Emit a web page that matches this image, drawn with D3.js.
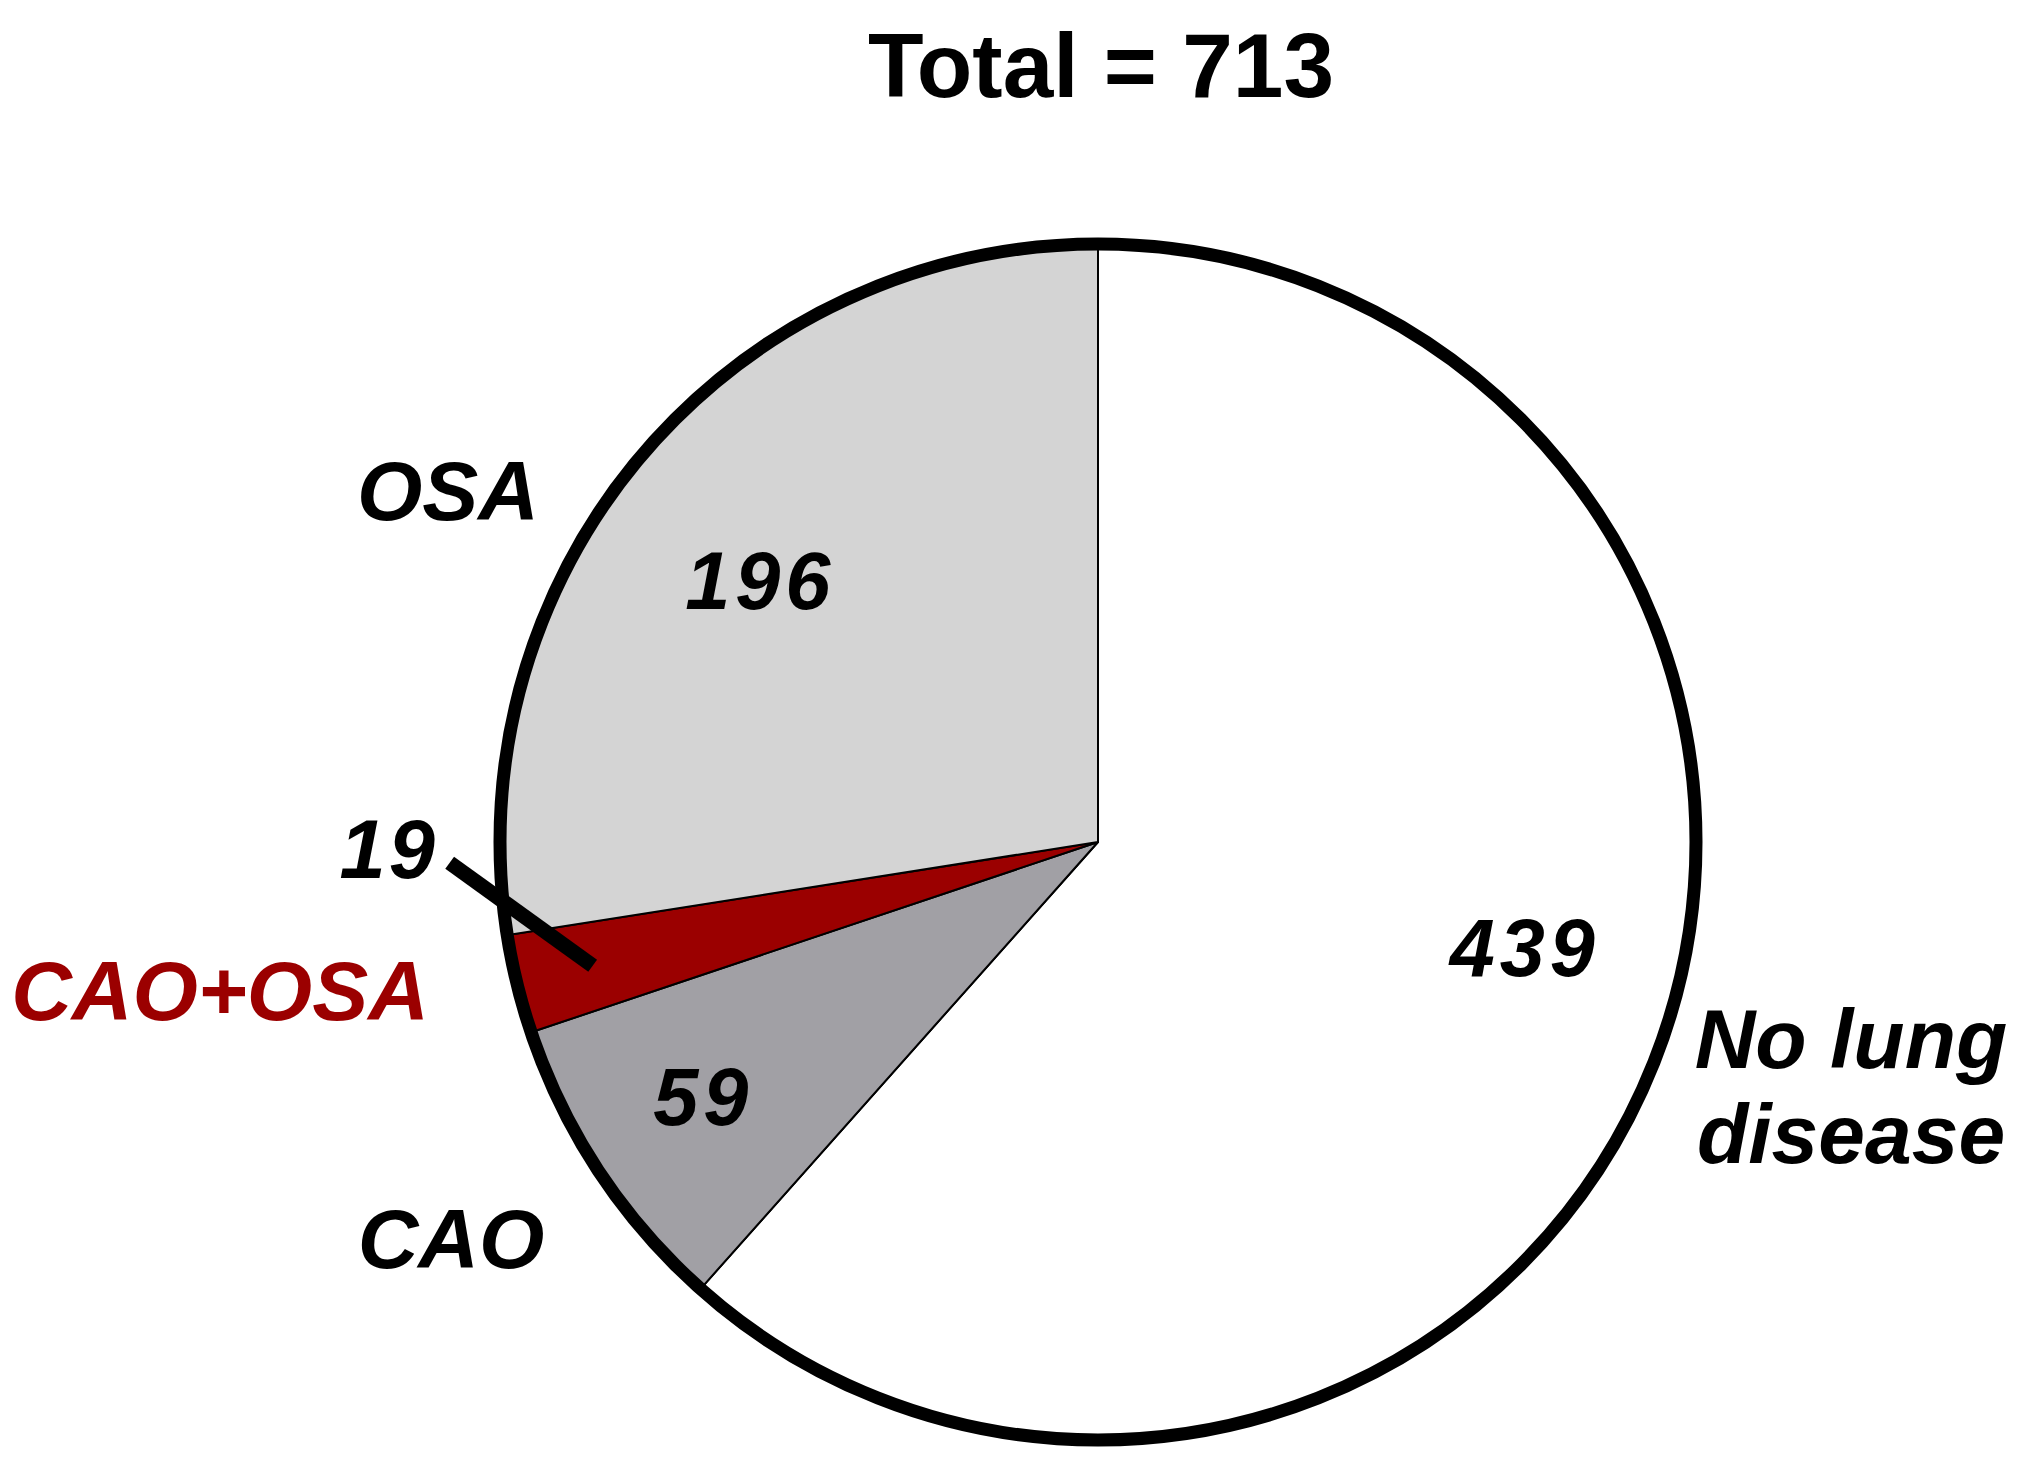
<!DOCTYPE html>
<html>
<head>
<meta charset="utf-8">
<script src="https://cdn.jsdelivr.net/npm/d3@7"></script>
<style>
  html, body { margin: 0; padding: 0; background: #ffffff; }
  svg { display: block; }
  text { font-family: "Liberation Sans", Arial, sans-serif; font-weight: bold; }
</style>
</head>
<body>
<div id="chart"></div>
<script>
// ---- data ----
const categories = ["No lung disease", "CAO", "CAO+OSA", "OSA"];
const counts = [439, 59, 19, 196];
const sliceColors = ["#ffffff", "#a1a0a5", "#9b0000", "#d4d4d4"];
const titleText = "Total = " + d3.sum(counts);

// ---- layout ----
const width = 2036;
const height = 1468;
const cx = 1098;
const cy = 842;
const radius = 598;

const svg = d3.select("#chart")
  .append("svg")
  .attr("width", width)
  .attr("height", height)
  .style("background", "#ffffff");

svg.append("text")
  .attr("x", 1101)
  .attr("y", 97)
  .attr("text-anchor", "middle")
  .style("font-size", "91px")
  .text(titleText);

const pie = d3.pie().sort(null).value(d => d.value);
const arcs = pie(categories.map((c, i) => ({ name: c, value: counts[i], color: sliceColors[i] })));

const arc = d3.arc().innerRadius(0).outerRadius(radius);

const g = svg.append("g").attr("transform", `translate(${cx},${cy})`);

g.selectAll("path.slice")
  .data(arcs)
  .enter()
  .append("path")
  .attr("class", "slice")
  .attr("d", arc)
  .attr("fill", d => d.data.color)
  .attr("stroke", "#000")
  .attr("stroke-width", 2)
  .attr("stroke-linejoin", "round");

// thick outer rim
g.append("circle")
  .attr("r", radius)
  .attr("fill", "none")
  .attr("stroke", "#000")
  .attr("stroke-width", 13);

// ---- value labels (radius fraction + angle nudge, in degrees) ----
const valueLabelPos = {
  "No lung disease": { r: 0.735, nudge: -7 },
  "CAO": { r: 0.785, nudge: 0.7 },
  "OSA": { r: 0.715, nudge: -2.7 }
};
const mid = d => (d.startAngle + d.endAngle) / 2;

arcs.filter(d => valueLabelPos[d.data.name]).forEach(d => {
  const p = valueLabelPos[d.data.name];
  const [x, y] = d3.pointRadial(mid(d) + p.nudge * Math.PI / 180, p.r * radius);
  g.append("text")
    .attr("x", x)
    .attr("y", y + 29)
    .attr("text-anchor", "middle")
    .style("font-size", "81px")
    .style("font-style", "italic")
    .style("letter-spacing", "5px")
    .text(d.data.value);
});

// small slice: leader line + label outside
const small = arcs.find(d => d.data.name === "CAO+OSA");
const [lx1, ly1] = d3.pointRadial(mid(small), 0.87 * radius);
const lx2 = lx1 - 143, ly2 = ly1 - 103;
g.append("line")
  .attr("x1", lx1).attr("y1", ly1)
  .attr("x2", lx2).attr("y2", ly2)
  .attr("stroke", "#000")
  .attr("stroke-width", 15);
g.append("text")
  .attr("x", lx2 - 61)
  .attr("y", ly2 + 15)
  .attr("text-anchor", "middle")
  .style("font-size", "83px")
  .style("font-style", "italic")
  .style("letter-spacing", "3px")
  .text(small.data.value);

// ---- category labels ----
const nameLabels = [
  { name: "OSA", x: 448, y: 520, color: "#000" },
  { name: "CAO+OSA", x: 220, y: 1020, color: "#9b0000" },
  { name: "CAO", x: 451, y: 1268, color: "#000" },
  { name: "No lung disease", x: 1851, y: 1068, color: "#000", lines: ["No lung", "disease"] }
];

nameLabels.forEach(l => {
  const t = svg.append("text")
    .attr("x", l.x)
    .attr("y", l.y)
    .attr("text-anchor", "middle")
    .style("font-size", "84px")
    .style("font-style", "italic")
    .attr("fill", l.color);
  const lines = l.lines || [l.name];
  lines.forEach((s, i) => {
    t.append("tspan")
      .attr("x", l.x)
      .attr("dy", i === 0 ? 0 : 95)
      .text(s);
  });
});
</script>
</body>
</html>
